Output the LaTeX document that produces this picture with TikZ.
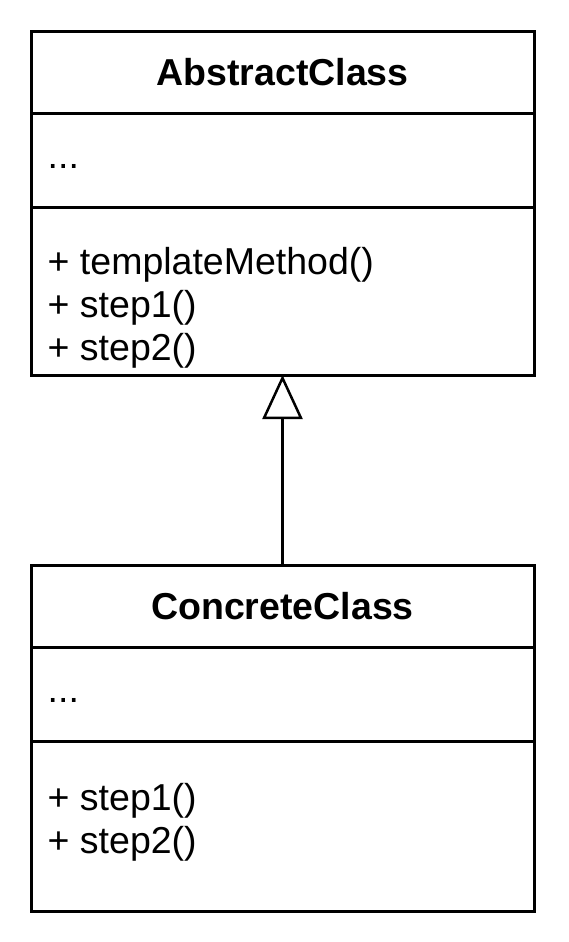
\documentclass[tikz,border=0pt]{standalone}
\usepackage{fontspec}
\setmainfont{Liberation Sans}
\usetikzlibrary{positioning,arrows.meta}
\definecolor{umlline}{HTML}{000000}

\begin{document}
\begin{tikzpicture}[x=1pt,y=-1pt,
    compart/.style={draw=umlline, line width=3pt, minimum width=503pt, inner sep=0pt, outer sep=0pt},
    classname/.style={font=\fontsize{37.5}{43}\selectfont\bfseries},
    member/.style={anchor=base west, inner sep=0pt, font=\fontsize{37.5}{43}\selectfont}]
        \useasboundingbox (0,0) rectangle (568,942);

        % Abstract class
        \node[compart, minimum height=81pt, anchor=north west] (abshead) at (31,32) {};
        \node[compart, minimum height=94pt, below=0pt of abshead] (absattr) {};
        \node[compart, minimum height=168pt, below=0pt of absattr] (absmeth) {};
        \node[classname] (absname) at (abshead) {AbstractClass};
        \node[member] (absdots) at ([xshift=16.5pt, yshift=-55pt]absattr.north west) {...};
        \node[member] (absm1) at ([xshift=16.5pt, yshift=-67pt]absmeth.north west) {+ templateMethod()};
        \node[member] (absm2) at ([yshift=-43pt]absm1.base west) {+ step1()};
        \node[member] (absm3) at ([yshift=-43pt]absm2.base west) {+ step2()};

        % Concrete class
        \node[compart, minimum height=82pt, below=190pt of absmeth] (conhead) {};
        \node[compart, minimum height=94pt, below=0pt of conhead] (conattr) {};
        \node[compart, minimum height=170pt, below=0pt of conattr] (conmeth) {};
        \node[classname] (conname) at (conhead) {ConcreteClass};
        \node[member] (condots) at ([xshift=16.5pt, yshift=-55pt]conattr.north west) {...};
        \node[member] (conm1) at ([xshift=16.5pt, yshift=-69pt]conmeth.north west) {+ step1()};
        \node[member] (conm2) at ([yshift=-43pt]conm1.base west) {+ step2()};

        % Inheritance
        \draw[umlline, line width=2.5pt, -{Triangle[open, length=44pt, width=40pt]}] (conhead) -- (absmeth);
      \end{tikzpicture}
\end{document}
